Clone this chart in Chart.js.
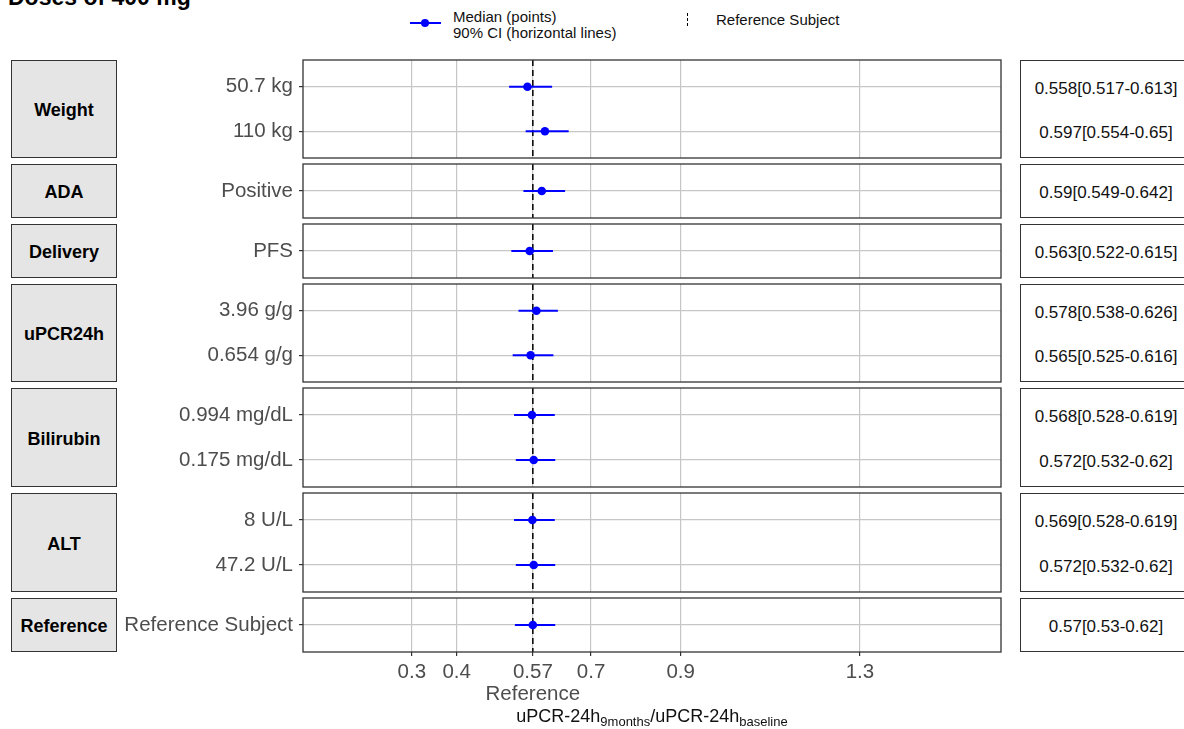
<!DOCTYPE html>
<html>
<head>
<meta charset="utf-8">
<script src="https://cdn.jsdelivr.net/npm/chart.js@4"></script>
<style>
    body { margin: 0; background: #fff; font-family: 'Liberation Sans', Arial, sans-serif; }
    #page { position: relative; width: 1184px; height: 729px; overflow: hidden; }
    .abs { position: absolute; }
    .strip { position: absolute; left: 11px; width: 106px; box-sizing: border-box; border: 1px solid #333;
             background: #e5e5e5; display: flex; align-items: center; justify-content: center;
             font-weight: bold; font-size: 18px; color: #000; padding-top: 3px; }
    .valbox { position: absolute; left: 1020px; width: 172px; box-sizing: border-box; border: 1px solid #333; }
    .val { position: absolute; left: 0; width: 170px; text-align: center; font-size: 17px; color: #111;
           transform: translateY(-50%); line-height: 20px; }
    .legtext { font-size: 15px; color: #111; line-height: 16px; }
    sub { font-size: 13px; vertical-align: -4px; line-height: 0; }
</style>
</head>
<body>
<div id="page">
    <div class="abs" style="left:8px; top:-14px; font-size:23px; font-weight:bold; line-height:23px;">Doses of 400 mg</div>

    <div class="abs" style="left:410px; top:22px; width:31px; height:2px; background:#0000ff;"></div>
    <div class="abs" style="left:421px; top:19px; width:8px; height:8px; border-radius:50%; background:#0000ff;"></div>
    <div class="abs legtext" style="left:453px; top:9px;">Median (points)<br>90% CI (horizontal lines)</div>
    <div class="abs" style="left:687px; top:13px; width:0; height:13px; border-left:1.5px dashed #000;"></div>
    <div class="abs legtext" style="left:716px; top:12px;">Reference Subject</div>

    <div id="panels"></div>

    <div class="abs" style="left:303px; width:698px; top:706px; text-align:center; font-size:18px; color:#111;">uPCR-24h<sub>9months</sub>/uPCR-24h<sub>baseline</sub></div>
</div>

<script>
const facets = ['Weight', 'ADA', 'Delivery', 'uPCR24h', 'Bilirubin', 'ALT', 'Reference'];
const rowLabels = [
    ['50.7 kg', '110 kg'],
    ['Positive'],
    ['PFS'],
    ['3.96 g/g', '0.654 g/g'],
    ['0.994 mg/dL', '0.175 mg/dL'],
    ['8 U/L', '47.2 U/L'],
    ['Reference Subject']
];
const medians = [[0.558, 0.597], [0.59], [0.563], [0.578, 0.565], [0.568, 0.572], [0.569, 0.572], [0.57]];
const lower = [[0.517, 0.554], [0.549], [0.522], [0.538, 0.525], [0.528, 0.532], [0.528, 0.532], [0.53]];
const upper = [[0.613, 0.65], [0.642], [0.615], [0.626, 0.616], [0.619, 0.62], [0.619, 0.62], [0.62]];
const xTicks = [0.3, 0.4, 0.57, 0.7, 0.9, 1.3];
const refValue = 0.57;
const refTickName = 'Reference';

// panel placement on the page
const panelTops = [60, 164, 224, 284, 388, 493, 598];
const panelHeights = [98, 54, 54, 98, 99, 99, 54];

const FONT = "'Liberation Sans', Arial, sans-serif";

const panelBox = {
    id: 'panelBox',
    afterDraw(chart) {
        const { ctx, chartArea: a } = chart;
        ctx.save();
        ctx.strokeStyle = '#333';
        ctx.lineWidth = 1.3;
        ctx.strokeRect(a.left, a.top, a.right - a.left, a.bottom - a.top);
        ctx.restore();
    }
};

function noPad(scale) {
    scale.paddingTop = 0;
    scale.paddingBottom = 0;
    scale.paddingLeft = 0;
    scale.paddingRight = 0;
}

function buildPanel(i) {
    const n = rowLabels[i].length;
    const top = panelTops[i];
    const h = panelHeights[i];
    const isLast = i === facets.length - 1;
    const container = document.getElementById('panels');

    const strip = document.createElement('div');
    strip.className = 'strip';
    strip.style.top = top + 'px';
    strip.style.height = h + 'px';
    strip.textContent = facets[i];
    container.appendChild(strip);

    const box = document.createElement('div');
    box.className = 'valbox';
    box.style.top = top + 'px';
    box.style.height = h + 'px';
    rowLabels[i].forEach((_, r) => {
        const v = document.createElement('div');
        v.className = 'val';
        v.style.top = (h * (0.6 + r) / (n + 0.2) + 1) + 'px';
        v.textContent = `${medians[i][r]}[${lower[i][r]}-${upper[i][r]}]`;
        box.appendChild(v);
    });
    container.appendChild(box);

    const extra = isLast ? 76 : 0;
    const canvas = document.createElement('canvas');
    canvas.width = 884;
    canvas.height = h + 4 + extra;
    canvas.style.position = 'absolute';
    canvas.style.left = '120px';
    canvas.style.top = (top - 2) + 'px';
    container.appendChild(canvas);

    const datasets = [{
        data: [{ x: refValue, y: -0.6 }, { x: refValue, y: n - 0.4 }],
        showLine: true,
        borderColor: '#000',
        borderWidth: 1.5,
        borderDash: [6, 4],
        pointRadius: 0,
        order: 3
    }];
    rowLabels[i].forEach((_, r) => {
        datasets.push({
            data: [{ x: lower[i][r], y: r }, { x: upper[i][r], y: r }],
            showLine: true,
            borderColor: '#0000ff',
            borderWidth: 1.8,
            pointRadius: 0,
            order: 2
        });
    });
    datasets.push({
        data: medians[i].map((m, r) => ({ x: m, y: r })),
        pointRadius: 4.3,
        backgroundColor: '#0000ff',
        borderWidth: 0,
        order: 1
    });

    new Chart(canvas.getContext('2d'), {
        type: 'scatter',
        data: { datasets },
        options: {
            responsive: false,
            animation: false,
            events: [],
            layout: { autoPadding: false, padding: { left: 0, right: 3, top: 2, bottom: 2 } },
            plugins: { legend: { display: false }, tooltip: { enabled: false } },
            scales: {
                x: {
                    type: 'linear',
                    min: 0.057,
                    max: 1.615,
                    afterBuildTicks: (scale) => { scale.ticks = xTicks.map(v => ({ value: v })); },
                    afterFit: (scale) => { scale.height = extra; noPad(scale); },
                    border: { display: false },
                    grid: {
                        color: '#c6c6c6',
                        lineWidth: 1.2,
                        drawTicks: isLast,
                        tickLength: 4,
                        tickColor: '#333'
                    },
                    ticks: {
                        display: isLast,
                        autoSkip: false,
                        maxRotation: 0,
                        padding: 6,
                        color: '#4d4d4d',
                        font: { family: FONT, size: 20.5, lineHeight: 1.05 },
                        callback: (v) => v === refValue ? [String(v), refTickName] : String(v)
                    }
                },
                y: {
                    type: 'linear',
                    reverse: true,
                    min: -0.6,
                    max: n - 0.4,
                    afterBuildTicks: (scale) => { scale.ticks = rowLabels[i].map((_, r) => ({ value: r })); },
                    afterFit: (scale) => { scale.width = 183; noPad(scale); },
                    border: { display: false },
                    grid: {
                        color: '#c6c6c6',
                        lineWidth: 1.2,
                        tickLength: 4,
                        tickColor: '#333'
                    },
                    ticks: {
                        autoSkip: false,
                        padding: 6,
                        color: '#4d4d4d',
                        font: { family: FONT, size: 20.5 },
                        callback: (v) => rowLabels[i][v]
                    }
                }
            }
        },
        plugins: [panelBox]
    });
}

facets.forEach((_, i) => buildPanel(i));
</script>
</body>
</html>
